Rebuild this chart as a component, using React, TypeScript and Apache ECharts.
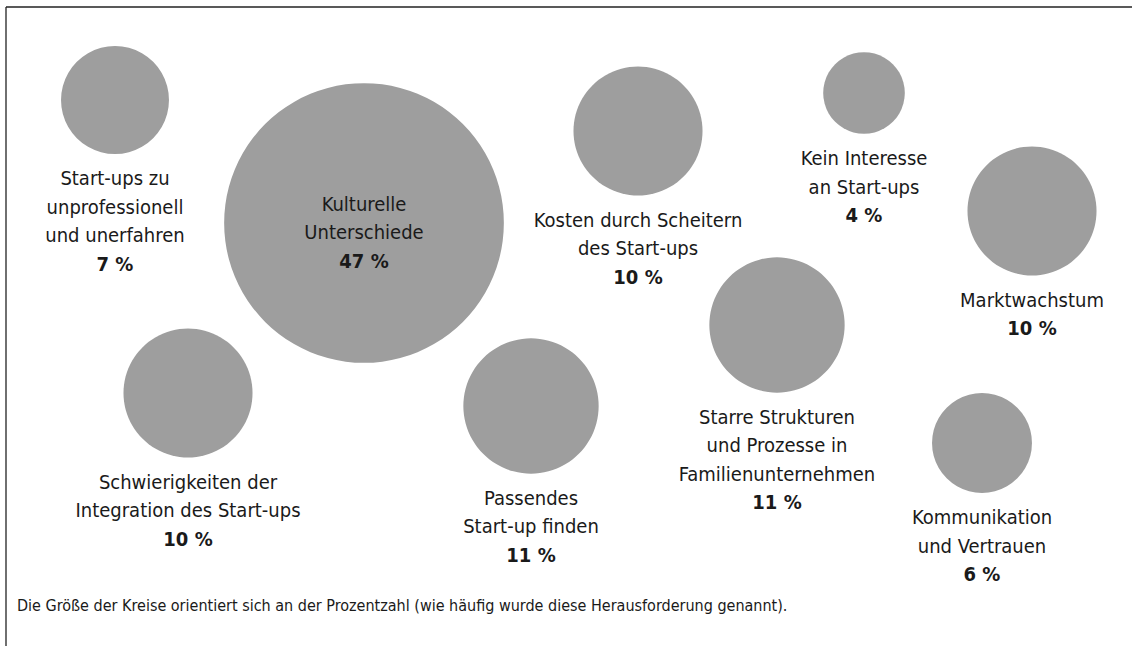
import React, { useEffect, useRef } from "react";
import * as echarts from "echarts";

// Challenge names (line breaks as in the chart)
const names: string[] = [
  "Start-ups zu\nunprofessionell\nund unerfahren",
  "Kulturelle\nUnterschiede",
  "Kosten durch Scheitern\ndes Start-ups",
  "Kein Interesse\nan Start-ups",
  "Marktwachstum",
  "Schwierigkeiten der\nIntegration des Start-ups",
  "Passendes\nStart-up finden",
  "Starre Strukturen\nund Prozesse in\nFamilienunternehmen",
  "Kommunikation\nund Vertrauen",
];
// Share of mentions in percent
const percents: number[] = [7, 47, 10, 4, 10, 10, 11, 11, 6];
// Bubble layout positions (layout units)
const posX: number[] = [115, 364, 638, 864, 1032, 188, 531, 777, 982];
const posY: number[] = [100, 223, 131, 93, 211, 393, 406, 325, 443];
// Which labels sit inside the bubble
const inside: boolean[] = [false, true, false, false, false, false, false, false, false];

const footnote =
  "Die Größe der Kreise orientiert sich an der Prozentzahl (wie häufig wurde diese Herausforderung genannt).";

const FONT = "'Liberation Sans Narrow', 'DejaVu Sans Condensed', 'Open Sans', sans-serif";

export default function App() {
  const ref = useRef<HTMLDivElement>(null);
  useEffect(() => {
    if (!ref.current) return;
    const chart = echarts.init(ref.current, null, { renderer: "svg" });
    const data = percents.map((v, i) => ({
      name: names[i],
      value: [posX[i], posY[i], v],
      label: inside[i]
        ? { position: "inside", offset: [0, 9] }
        : { position: "bottom", distance: 10 },
    }));
    chart.setOption({
      animation: false,
      grid: { left: 0, right: 0, top: 0, bottom: 0 },
      xAxis: { type: "value", min: 0, max: 1132, show: false },
      yAxis: { type: "value", min: 0, max: 646, inverse: true, show: false },
      series: [
        {
          type: "scatter",
          data,
          symbol: "circle",
          symbolSize: (val: number[]) => 40.8 * Math.sqrt(val[2]),
          itemStyle: { color: "#9e9e9e", opacity: 1 },
          label: {
            show: true,
            fontFamily: FONT,
            formatter: (p: any) =>
              p.name
                .split("\n")
                .map((l: string) => `{a|${l}}`)
                .join("\n") + `\n{b|${p.value[2]} %}`,
            rich: {
              a: { fontFamily: FONT, fontSize: 20, color: "#1a1a1a", lineHeight: 28.5, align: "center" },
              b: { fontFamily: FONT, fontSize: 20, fontWeight: "bold", color: "#1a1a1a", lineHeight: 28.5, align: "center" },
            },
          },
          emphasis: { disabled: true },
        },
      ],
      graphic: [
        { type: "line", shape: { x1: 6, y1: 7, x2: 1132, y2: 7 }, style: { stroke: "#222", lineWidth: 1.3 } },
        { type: "line", shape: { x1: 6, y1: 7, x2: 6, y2: 646 }, style: { stroke: "#222", lineWidth: 1.3 } },
        {
          type: "text",
          left: 17,
          top: 597,
          style: { text: footnote, fontFamily: FONT, fontSize: 16, fill: "#1a1a1a" },
        },
      ],
    });
    return () => chart.dispose();
  }, []);
  return (
    <div
      ref={ref}
      style={{ position: "absolute", left: 0, top: 0, width: 1132, height: 646, background: "#fff" }}
    />
  );
}
